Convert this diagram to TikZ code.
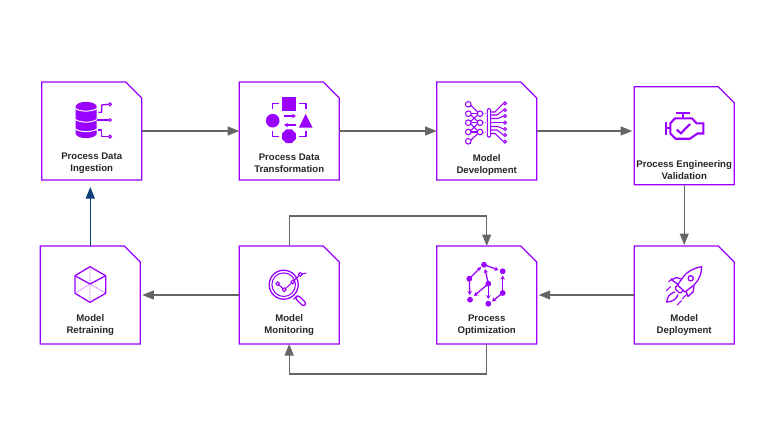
\documentclass[tikz,border=0pt]{standalone}
\usepackage{fontspec}
\setmainfont{Liberation Sans}
\usetikzlibrary{arrows.meta}
\definecolor{boxpurple}{HTML}{9900FF}
\definecolor{flowgrey}{HTML}{666666}
\definecolor{flownavy}{HTML}{0B3D78}
\tikzset{
	stepbox/.style={rectangle,minimum width=100pt,minimum height=98pt,inner sep=0pt,outer sep=0pt},
	stepline/.style={draw=boxpurple,line width=1.2pt,line join=miter},
	steptext/.style={align=center,font=\bfseries\fontsize{9.6}{12}\selectfont,text=black!85,inner sep=0pt},
	flow/.style={draw=flowgrey,line width=1.2pt,-{Triangle[length=11.5pt,width=9pt,fill=flowgrey]}},
	iconline/.style={draw=boxpurple,line width=1.3pt,line join=round},
	iconthin/.style={draw=boxpurple,line width=1.05pt,line join=round},
	iconthick/.style={draw=boxpurple,line width=2.1pt,line join=miter},
	iconfill/.style={fill=boxpurple,draw=none},
	icondot/.style={draw=boxpurple,line width=1.05pt,fill=white},
	iconfaint/.style={draw=boxpurple!70,line width=.9pt,densely dotted},
	iconarrow/.style={draw=boxpurple,line width=1.3pt,-{Stealth[length=4pt,width=4.5pt]}}
}
\begin{document}
\begin{tikzpicture}[x=1pt,y=-1pt,auto,node distance=197.5pt]
	\useasboundingbox (0,0) rectangle (775,442);
	\node(ingestion)[stepbox] at (91.7,131) {};
	\node(transformation)[stepbox,right of=ingestion] {};
	\node(development)[stepbox,right of=transformation] {};
	\node(validation)[stepbox,right of=development,yshift=-4.7pt] {};
	\node(deployment)[stepbox] at (684.2,295) {};
	\node(optimization)[stepbox,left of=deployment] {};
	\node(monitoring)[stepbox,left of=optimization] {};
	\node(retraining)[stepbox,left of=monitoring,xshift=-1.4pt] {};
	\foreach \n in {ingestion,transformation,development,validation,deployment,optimization,monitoring,retraining}
		\draw[stepline](\n.north west) -- ([xshift=-16pt]\n.north east) -- ([yshift=-16pt]\n.north east) -- (\n.south east) -- (\n.south west) -- cycle;
	\node(ingestiontext)[steptext,below of=ingestion,node distance=32.3pt]{Process Data\\Ingestion};
	\node(transformationtext)[steptext,below of=transformation,node distance=32.3pt]{Process Data\\Transformation};
	\node(developmenttext)[steptext,below of=development,node distance=34.3pt]{Model\\Development};
	\node(validationtext)[steptext,below of=validation,node distance=34pt]{Process Engineering\\Validation};
	\node(deploymenttext)[steptext,below of=deployment,node distance=30.3pt]{Model\\Deployment};
	\node(optimizationtext)[steptext,below of=optimization,node distance=30.3pt]{Process\\Optimization};
	\node(monitoringtext)[steptext,below of=monitoring,node distance=30.3pt]{Model\\Monitoring};
	\node(retrainingtext)[steptext,below of=retraining,node distance=30.3pt]{Model\\Retraining};
	\draw[flow](ingestion.east) to (transformation.west);
	\draw[flow](transformation.east) to (development.west);
	\draw[flow,shorten >=2pt](development.east) to (development.east -| validation.west);
	\draw[flow,shorten >=1pt](validation.south) to (deployment.north);
	\draw[flow,shorten >=2pt](deployment.west) to (optimization.east);
	\draw[flow,shorten >=2pt](monitoring.west) to (retraining.east);
	\draw[flow,draw=flownavy,line width=1.3pt,shorten >=7pt,-{Triangle[length=11.5pt,width=9pt,fill=flownavy]}](retraining.north) to (retraining.north |- ingestion.south);
	\draw[flow](monitoring.north) -- ++(0,-30) -| (optimization.north);
	\draw[flow](optimization.south) -- ++(0,30) -| (monitoring.south);
	% ingestion
	\fill[iconfill] (75.7,106) -- (75.7,134) .. controls (78,139.5) and (94,139.5) .. (96.7,134) -- (96.7,106) .. controls (94,100.5) and (78,100.5) .. cycle;
	\foreach \y in {108.5,119.5,129}
		\draw[white,line width=1pt] (75.5,\y) .. controls (80,\y+3.5) and (92,\y+3.5) .. (96.9,\y);
	\draw[iconline] (98.3,112.3) -- (101.7,112.3) -- (101.7,105) -- (108.5,104.3);
	\draw[iconline] (97,120) -- (108.5,120);
	\draw[iconline] (98.3,130) -- (101.7,130) -- (101.7,136.7) -- (108.5,136.7);
	\foreach \y in {104.3,120,136.7}
		\draw[icondot] (110,\y) circle[radius=1.5];
	% transformation
	\fill[iconfill] (282.3,97.3) rectangle (295.7,110.7);
	\fill[iconfill] (272.7,120.7) circle[radius=6.8];
	\fill[iconfill] (305.7,114) -- (312.5,127.5) -- (298.9,127.5) -- cycle;
	\fill[iconfill] (289,136.3) +(22.5:7.4) -- +(67.5:7.4) -- +(112.5:7.4) -- +(157.5:7.4) -- +(202.5:7.4) -- +(247.5:7.4) -- +(292.5:7.4) -- +(337.5:7.4) -- cycle;
	\draw[iconline] (272.3,109.3) -- (272.3,103.3) -- (279.3,103.3);
	\draw[iconline] (299.3,103.3) -- (306,103.3) -- (306,109.3);
	\draw[iconline] (272.3,130.7) -- (272.3,136.7) -- (279.3,136.7);
	\draw[iconline] (299.3,136.7) -- (306,136.7) -- (306,130.7);
	\draw[iconarrow,line width=1.5pt] (284,116) -- (296,116);
	\draw[iconarrow,line width=1.5pt] (296,125) -- (284,125);
	% development
	\foreach \y in {104.3,113.7,122.7,132,141.3}
		\draw[icondot] (468.3,\y) circle[radius=2.8];
	\foreach \y in {113.7,122.7,132}
		\draw[icondot] (480,\y) circle[radius=2.8];
	\draw[iconthin] (471,105.5) -- (477.7,112);
	\draw[iconthin] (471,113.7) -- (477.3,113.7);
	\draw[iconthin] (470.8,115) -- (477.5,121.3) (470.8,121.3) -- (477.5,115);
	\draw[iconthin] (471,122.7) -- (477.3,122.7);
	\draw[iconthin] (470.8,124) -- (477.5,130.6) (470.8,130.6) -- (477.5,124);
	\draw[iconthin] (471,132) -- (477.3,132);
	\draw[iconthin] (471,140) -- (477.7,133.7);
	\draw[icondot,rounded corners=1pt] (487.3,108.7) rectangle (490.7,137);
	\draw[iconfaint] (483,113.7) -- (487,113.7) (483,122.7) -- (487,122.7) (483,132) -- (487,132);
	\draw[iconthin] (490.7,112) -- (495,112) -- (503.5,103.3);
	\draw[iconthin] (490.7,115) -- (497,115) -- (503.5,110);
	\draw[iconthin] (490.7,118.5) -- (498,118.5) -- (503.5,116);
	\draw[iconthin] (490.7,122.7) -- (503.5,122.7);
	\draw[iconthin] (490.7,126.5) -- (498,126.5) -- (503.5,129);
	\draw[iconthin] (490.7,130) -- (497,130) -- (503.5,135);
	\draw[iconthin] (490.7,133.5) -- (495,133.5) -- (503.5,141.7);
	\foreach \y in {103.3,110,116,122.7,129,135,141.7}
		\draw[icondot] (505,\y) circle[radius=1.5];
	% validation
	\draw[iconthick] (675.7,113) -- (690,113) (682.7,113) -- (682.7,118.3);
	\draw[iconthick] (675,118.3) -- (692,118.3) -- (696.5,123.3) -- (703.3,123.3) -- (703.3,133.5) -- (697.5,133.5) -- (690,138.7) -- (675.5,138.7) -- (670.3,133.5) -- (670.3,123.3) -- cycle;
	\draw[iconthick] (666,121.7) -- (666,135) (666,128.3) -- (670.3,128.3);
	\draw[iconthick] (676.7,129.7) -- (681,133.3) -- (690,124);
	% retraining
	\draw[iconline] (90,266.7) -- (105.7,275.7) -- (105.7,293.3) -- (90,302.3) -- (75,293.3) -- (75,275.7) -- cycle;
	\draw[iconline] (75,275.7) -- (90,284) -- (105.7,275.7);
	\draw[iconfaint] (90,266.7) -- (90,284) -- (90,302.3) (75,293.3) -- (90,284) -- (105.7,293.3);
	% monitoring
	\draw[iconline] (283.7,284.7) circle[radius=14.5];
	\draw[iconthin] (283.7,284.7) circle[radius=11.8];
	\draw[iconline,rounded corners=2.4pt] (295.5,297.5) -- (298,295) -- (306.5,303.5) -- (303.5,306.5) -- (295,298) -- cycle;
	\draw[iconthin] (277.7,283.7) -- (284.3,289.7) -- (292.7,282) -- (300.3,274.3) -- (306.3,273);
	\foreach \x/\y in {277.7/283.7,284.3/289.7,292.7/282,300.3/274.3}
		\draw[icondot] (\x,\y) circle[radius=1.9];
	% optimization
	\foreach \x/\y in {484/264.7,502.7/271.3,469.3/278.7,488.3/283.7,502.7/293,470/299.7,488.3/303.7}
		\fill[iconfill] (\x,\y) circle[radius=2.9];
	\draw[iconarrow] (484,264.7) -- (498.5,270);
	\draw[iconarrow] (469.3,278.7) -- (481,267);
	\draw[iconarrow] (469.3,278.7) -- (469.8,295);
	\draw[iconarrow] (488.3,283.7) -- (485,269);
	\draw[iconarrow] (488.3,283.7) -- (474,296);
	\draw[iconarrow] (488.3,283.7) -- (488.3,299);
	\draw[iconarrow] (502.7,293) -- (502.7,275.5);
	\draw[iconarrow] (502.7,293) -- (492,301.5);
	% deployment
	\draw[iconline] (701.7,266.7) .. controls (694,268) and (688,271) .. (684,276) -- (677.5,285) -- (685,292) -- (694,285) .. controls (699,280) and (701.5,274) .. cycle;
	\draw[iconline] (690.7,278.3) circle[radius=2.6];
	\draw[iconline] (681.5,279) -- (676,277.5) -- (671.7,280) -- (678.5,284.5);
	\draw[iconline] (694,286) -- (693,292) -- (688,296.5) -- (686,291);
	\draw[iconline,rounded corners=1pt] (677.5,285) -- (674.8,288.3) -- (680,293.5) -- (683,290.5);
	\draw[iconline] (675,292) .. controls (670,293) and (667,297) .. (666.7,302) .. controls (672,302) and (677,299) .. (678,294.5);
	\draw[iconthin] (666,291) -- (670.5,286.5) (668.5,282) -- (672,278.5) (682,299) -- (686.5,294.5) (677,305) -- (681.5,300.5);
\end{tikzpicture}
\end{document}
